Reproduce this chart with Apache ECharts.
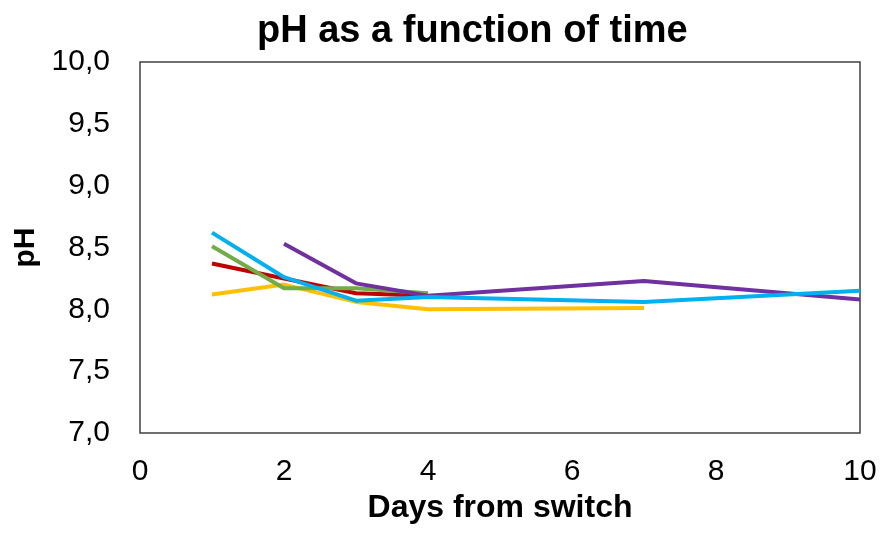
<!DOCTYPE html>
<html>
<head>
<meta charset="utf-8">
<script src="https://cdn.jsdelivr.net/npm/echarts@6/dist/echarts.min.js"></script>
<style>
html,body{margin:0;padding:0;background:#fff;}
#chart{width:880px;height:534px;}
</style>
</head>
<body>
<div id="chart"></div>
<script>
var days = [1, 2, 3, 4, 7, 10];
var red = [8.37, 8.25, 8.13, 8.11, null, null];
var yellow = [8.12, 8.20, 8.06, 8.00, 8.01, null];
var green = [8.51, 8.17, 8.17, 8.13, null, null];
var purple = [null, 8.53, 8.21, 8.11, 8.23, 8.08];
var blue = [8.62, 8.26, 8.07, 8.10, 8.06, 8.15];

function pairs(vals) {
    var out = [];
    for (var i = 0; i < days.length; i++) {
        if (vals[i] != null) out.push([days[i], vals[i]]);
    }
    return out;
}

function line(data, color) {
    return {
        type: 'line',
        data: pairs(data),
        symbol: 'none',
        lineStyle: {color: color, width: 4},
        itemStyle: {color: color}
    };
}

var mychart = echarts.init(document.getElementById('chart'));
var option = {
    animation: false,
    title: {
        text: 'pH as a function of time',
        left: 252,
        top: 8,
        textStyle: {fontFamily: 'Liberation Sans', fontSize: 38, fontWeight: 'bold', color: '#000'}
    },
    grid: {left: 140, right: 20, top: 62, bottom: 101, show: true, borderColor: '#404040', borderWidth: 1.5},
    xAxis: {
        type: 'value',
        min: 0, max: 10, interval: 2,
        name: 'Days from switch',
        nameLocation: 'middle',
        nameGap: 46,
        nameTextStyle: {fontFamily: 'Liberation Sans', fontSize: 32, fontWeight: 'bold', color: '#000'},
        axisLine: {show: false},
        axisTick: {show: false},
        splitLine: {show: false},
        axisLabel: {fontFamily: 'Liberation Sans', fontSize: 30, color: '#000', margin: 24}
    },
    yAxis: {
        type: 'value',
        min: 7, max: 10, interval: 0.5,
        name: 'pH',
        nameLocation: 'middle',
        nameGap: 98,
        nameTextStyle: {fontFamily: 'Liberation Sans', fontSize: 30, fontWeight: 'bold', color: '#000'},
        axisLine: {show: false},
        axisTick: {show: false},
        splitLine: {show: false},
        axisLabel: {
            fontFamily: 'Liberation Sans', fontSize: 30, color: '#000', margin: 30,
            formatter: function (v) { return v.toFixed(1).replace('.', ','); }
        }
    },
    series: [
        line(red, '#C00000'),
        line(yellow, '#FFC000'),
        line(green, '#70AD47'),
        line(purple, '#7030A0'),
        line(blue, '#00B0F0')
    ]
};
mychart.setOption(option);
</script>
</body>
</html>
